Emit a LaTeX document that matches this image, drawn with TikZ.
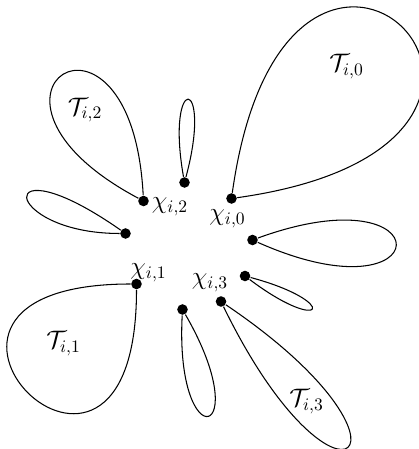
\documentclass[tikz,border=0pt]{standalone}
\usepackage{amsmath,amssymb}
\usepackage{tikz}

\begin{document}
\begin{tikzpicture}[
  every node/.style={font=\Large},
  every path/.style={line width=0.6pt},
  dot/.style={circle, fill=black, inner sep=0pt, minimum size=6pt},
  lbl/.style={inner sep=1pt}
]
\useasboundingbox (0,0) rectangle (8.36,8.98);
% attachment points
\node[dot] (x0) at (4.63, 5.01) {};
\node[dot] (x1) at (2.73, 3.30) {};
\node[dot] (x2) at (2.87, 4.96) {};
\node[dot] (x3) at (4.42, 2.95) {};
\node[dot] (p1) at (3.69, 5.33) {};
\node[dot] (p2) at (2.51, 4.31) {};
\node[dot] (p3) at (5.05, 4.18) {};
\node[dot] (p4) at (4.90, 3.46) {};
\node[dot] (p5) at (3.65, 2.79) {};
% labels
\node[lbl] (c0) at (4.55, 4.61) {$\chi_{i,0}$};
\node[lbl] (c1) at (2.97, 3.53) {$\chi_{i,1}$};
\node[lbl] (c2) at (3.40, 4.85) {$\chi_{i,2}$};
\node[lbl] (c3) at (4.20, 3.33) {$\chi_{i,3}$};
\node[lbl] (t0) at (6.93, 7.65) {$\mathcal{T}_{i,0}$};
\node[lbl] (t1) at (1.27, 2.11) {$\mathcal{T}_{i,1}$};
\node[lbl] (t2) at (1.70, 6.78) {$\mathcal{T}_{i,2}$};
\node[lbl] (t3) at (6.13, 0.95) {$\mathcal{T}_{i,3}$};
% loops
\draw (x0) .. controls +(82:8.04) and +(8:8.04) .. (x0);
\draw (x1) .. controls +(180:5.76) and +(270:5.76) .. (x1);
\draw (x2) .. controls +(93:4.56) and +(152:4.56) .. (x2);
\draw (x3) .. controls +(-64:5.3) and +(-34:5.3) .. (x3);
\draw (p1) .. controls +(100:2.24) and +(75:2.24) .. (p1);
\draw (p2) .. controls +(145:3.3) and +(180:2.5) .. (p2);
\draw (p3) .. controls +(20:4.1) and +(-24:4.1) .. (p3);
\draw (p4) .. controls +(-15:2) and +(-37:2) .. (p4);
\draw (p5) .. controls +(-93:3.02) and +(-60:3.02) .. (p5);
\end{tikzpicture}
\end{document}
